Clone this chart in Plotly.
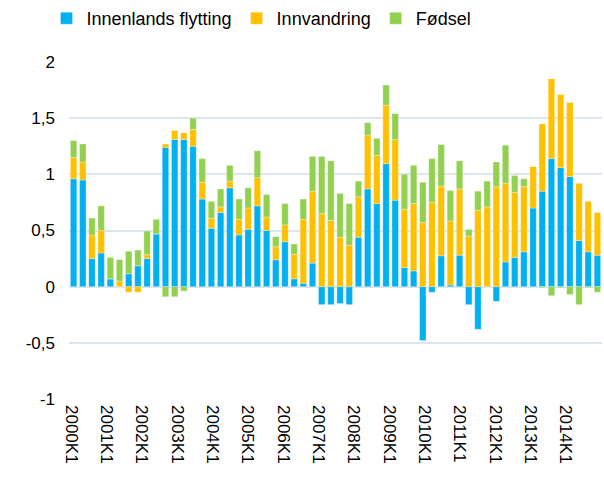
import plotly.graph_objects as go

quarters = [f"{y}K{q}" for y in range(2000, 2015) for q in range(1, 5)][:58]

innenlands = [0.96, 0.95, 0.25, 0.30, 0.07, 0.00, 0.115, 0.186, 0.25, 0.47,
              1.24, 1.31, 1.31, 1.25, 0.78, 0.52, 0.66, 0.88, 0.46, 0.51,
              0.72, 0.50, 0.24, 0.40, 0.07, 0.03, 0.21, -0.16, -0.16, -0.15,
              -0.16, 0.44, 0.87, 0.74, 1.095, 0.77, 0.17, 0.14, -0.48, -0.05,
              0.275, 0.015, 0.28, -0.16, -0.38, 0.0, -0.13, 0.22, 0.26, 0.31,
              0.70, 0.85, 1.14, 1.06, 0.98, 0.41, 0.31, 0.28]

innvandring = [0.19, 0.16, 0.21, 0.20, 0.0, 0.05, -0.05, -0.05, 0.035, 0.0,
               0.03, 0.08, 0.06, 0.15, 0.15, 0.09, 0.05, 0.06, 0.14, 0.19,
               0.25, 0.12, 0.115, 0.15, 0.22, 0.57, 0.64, 0.65, 0.59, 0.44,
               0.37, 0.36, 0.48, 0.43, 0.52, 0.54, 0.52, 0.60, 0.57, 0.75,
               0.62, 0.57, 0.59, 0.45, 0.68, 0.71, 0.89, 0.70, 0.58, 0.58,
               0.37, 0.60, 0.71, 0.65, 0.66, 0.51, 0.45, 0.38]

fodsel = [0.15, 0.16, 0.15, 0.22, 0.19, 0.19, 0.20, 0.14, 0.21, 0.13,
          -0.09, -0.09, -0.04, 0.10, 0.21, 0.15, 0.16, 0.14, 0.18, 0.18,
          0.24, 0.20, 0.09, 0.19, 0.09, 0.18, 0.31, 0.51, 0.53, 0.39,
          0.37, 0.14, 0.11, 0.15, 0.18, 0.23, 0.31, 0.34, 0.36, 0.39,
          0.37, 0.27, 0.25, 0.06, 0.17, 0.23, 0.22, 0.34, 0.15, 0.07,
          0.0, -0.01, -0.08, -0.01, -0.07, -0.16, -0.01, -0.05]

y_ticks = [-1, -0.5, 0, 0.5, 1, 1.5, 2]
y_tick_labels = ["-1", "-0,5", "0", "0,5", "1", "1,5", "2"]

series = [
    ("Innenlands flytting", innenlands, "#00b0f0"),
    ("Innvandring", innvandring, "#ffc000"),
    ("Fødsel", fodsel, "#92d050"),
]

x = list(range(len(quarters)))

fig = go.Figure()
for name, vals, color in series:
    fig.add_trace(go.Bar(
        x=x, y=vals, name=name,
        marker=dict(color=color, line=dict(color="rgba(255,255,255,0.5)", width=0.6)),
        customdata=quarters,
        hovertemplate="%{customdata}: %{y}<extra>" + name + "</extra>",
    ))

# the original's year labels are spaced a bit tighter than the bars
label_idx = list(range(0, len(quarters), 4))
tick_pos = [-0.25 + k * 3.845 for k in range(len(label_idx))]

fig.update_layout(
    barmode="relative",
    bargap=0.3,
    width=604, height=484,
    margin=dict(l=69, r=2, t=62, b=85),
    plot_bgcolor="white",
    paper_bgcolor="white",
    font=dict(family="Liberation Sans, Arial, sans-serif", size=17, color="black"),
    showlegend=True,
    legend=dict(
        orientation="h", xref="container", yref="container",
        x=0.077, y=1.0, xanchor="left", yanchor="top",
        font=dict(size=18), itemwidth=30, traceorder="normal",
    ),
    xaxis=dict(
        range=[-0.5, len(quarters) - 0.5], automargin=False,
        tickmode="array", tickvals=tick_pos,
        ticktext=[quarters[i] for i in label_idx], ticklabelstandoff=5,
        tickangle=90, showgrid=False, zeroline=False, showline=False, ticks="",
    ),
    yaxis=dict(
        range=[-1, 2], automargin=False,
        tickmode="array", tickvals=y_ticks, ticktext=y_tick_labels,
        ticklabelstandoff=13,
        showgrid=True, gridcolor="#dce4ee", gridwidth=1.5,
        zeroline=False, showline=False, ticks="",
    ),
)

# drop the default body margin so the figure fills the window exactly
fig.write_html(
    "out.html",
    config={"displayModeBar": False},
    post_script="document.body.style.margin='0';document.body.style.overflow='hidden';",
)
